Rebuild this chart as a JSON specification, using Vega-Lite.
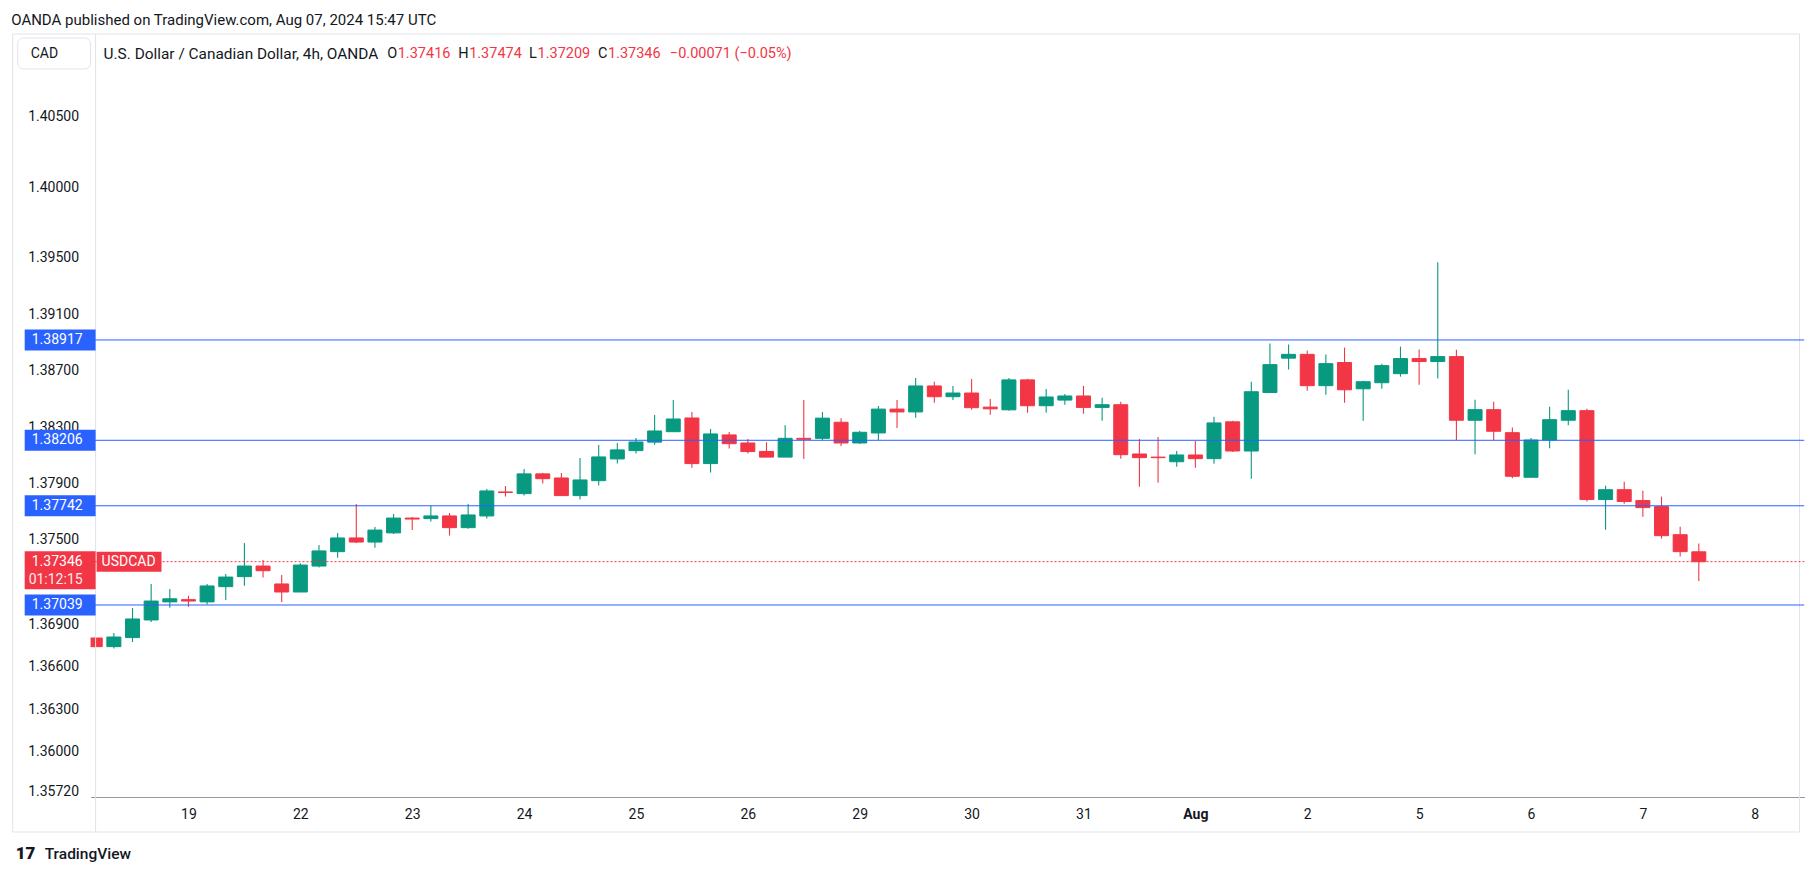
{
  "$schema": "https://vega.github.io/schema/vega-lite/v6.json",
  "width": 1713.9,
  "height": 763,
  "autosize": {"type": "none"},
  "padding": {"left": 90.6, "top": 34, "right": 9.5, "bottom": 79},
  "background": "#ffffff",
  "config": {"view": {"stroke": null}, "font": "Roboto", "text": {"font": "Roboto"}},
  "datasets": {
    "candles": [
      {"i": 0, "o": 1.36805, "h": 1.36810, "l": 1.36738, "c": 1.36744},
      {"i": 1, "o": 1.36744, "h": 1.36841, "l": 1.36730, "c": 1.36812},
      {"i": 2, "o": 1.36808, "h": 1.37018, "l": 1.36777, "c": 1.36940},
      {"i": 3, "o": 1.36933, "h": 1.37188, "l": 1.36919, "c": 1.37067},
      {"i": 4, "o": 1.37061, "h": 1.37152, "l": 1.37020, "c": 1.37083},
      {"i": 5, "o": 1.37077, "h": 1.37105, "l": 1.37027, "c": 1.37067},
      {"i": 6, "o": 1.37061, "h": 1.37188, "l": 1.37042, "c": 1.37174},
      {"i": 7, "o": 1.37169, "h": 1.37259, "l": 1.37075, "c": 1.37237},
      {"i": 8, "o": 1.37240, "h": 1.37478, "l": 1.37176, "c": 1.37315},
      {"i": 9, "o": 1.37315, "h": 1.37358, "l": 1.37233, "c": 1.37282},
      {"i": 10, "o": 1.37188, "h": 1.37252, "l": 1.37061, "c": 1.37131},
      {"i": 11, "o": 1.37131, "h": 1.37334, "l": 1.37131, "c": 1.37322},
      {"i": 12, "o": 1.37315, "h": 1.37464, "l": 1.37304, "c": 1.37422},
      {"i": 13, "o": 1.37417, "h": 1.37549, "l": 1.37374, "c": 1.37514},
      {"i": 14, "o": 1.37514, "h": 1.37755, "l": 1.37478, "c": 1.37485},
      {"i": 15, "o": 1.37485, "h": 1.37592, "l": 1.37445, "c": 1.37570},
      {"i": 16, "o": 1.37550, "h": 1.37684, "l": 1.37542, "c": 1.37655},
      {"i": 17, "o": 1.37655, "h": 1.37663, "l": 1.37570, "c": 1.37648},
      {"i": 18, "o": 1.37651, "h": 1.37743, "l": 1.37630, "c": 1.37670},
      {"i": 19, "o": 1.37670, "h": 1.37691, "l": 1.37531, "c": 1.37587},
      {"i": 20, "o": 1.37587, "h": 1.37755, "l": 1.37580, "c": 1.37677},
      {"i": 21, "o": 1.37670, "h": 1.37861, "l": 1.37651, "c": 1.37847},
      {"i": 22, "o": 1.37840, "h": 1.37882, "l": 1.37807, "c": 1.37836},
      {"i": 23, "o": 1.37828, "h": 1.38003, "l": 1.37814, "c": 1.37968},
      {"i": 24, "o": 1.37968, "h": 1.37975, "l": 1.37899, "c": 1.37934},
      {"i": 25, "o": 1.37939, "h": 1.37975, "l": 1.37814, "c": 1.37814},
      {"i": 26, "o": 1.37814, "h": 1.38081, "l": 1.37786, "c": 1.37925},
      {"i": 27, "o": 1.37920, "h": 1.38173, "l": 1.37885, "c": 1.38088},
      {"i": 28, "o": 1.38074, "h": 1.38187, "l": 1.38041, "c": 1.38138},
      {"i": 29, "o": 1.38133, "h": 1.38223, "l": 1.38112, "c": 1.38194},
      {"i": 30, "o": 1.38193, "h": 1.38386, "l": 1.38175, "c": 1.38272},
      {"i": 31, "o": 1.38267, "h": 1.38492, "l": 1.38267, "c": 1.38357},
      {"i": 32, "o": 1.38364, "h": 1.38407, "l": 1.38012, "c": 1.38041},
      {"i": 33, "o": 1.38041, "h": 1.38286, "l": 1.37977, "c": 1.38251},
      {"i": 34, "o": 1.38244, "h": 1.38265, "l": 1.38147, "c": 1.38182},
      {"i": 35, "o": 1.38187, "h": 1.38215, "l": 1.38112, "c": 1.38126},
      {"i": 36, "o": 1.38127, "h": 1.38192, "l": 1.38087, "c": 1.38087},
      {"i": 37, "o": 1.38087, "h": 1.38313, "l": 1.38087, "c": 1.38220},
      {"i": 38, "o": 1.38220, "h": 1.38491, "l": 1.38073, "c": 1.38213},
      {"i": 39, "o": 1.38220, "h": 1.38406, "l": 1.38206, "c": 1.38363},
      {"i": 40, "o": 1.38334, "h": 1.38363, "l": 1.38166, "c": 1.38187},
      {"i": 41, "o": 1.38187, "h": 1.38273, "l": 1.38180, "c": 1.38263},
      {"i": 42, "o": 1.38258, "h": 1.38449, "l": 1.38206, "c": 1.38427},
      {"i": 43, "o": 1.38427, "h": 1.38491, "l": 1.38294, "c": 1.38407},
      {"i": 44, "o": 1.38407, "h": 1.38648, "l": 1.38365, "c": 1.38591},
      {"i": 45, "o": 1.38591, "h": 1.38620, "l": 1.38472, "c": 1.38515},
      {"i": 46, "o": 1.38515, "h": 1.38591, "l": 1.38491, "c": 1.38541},
      {"i": 47, "o": 1.38541, "h": 1.38641, "l": 1.38422, "c": 1.38437},
      {"i": 48, "o": 1.38441, "h": 1.38498, "l": 1.38387, "c": 1.38429},
      {"i": 49, "o": 1.38422, "h": 1.38648, "l": 1.38415, "c": 1.38634},
      {"i": 50, "o": 1.38634, "h": 1.38641, "l": 1.38401, "c": 1.38451},
      {"i": 51, "o": 1.38451, "h": 1.38570, "l": 1.38401, "c": 1.38513},
      {"i": 52, "o": 1.38491, "h": 1.38534, "l": 1.38458, "c": 1.38520},
      {"i": 53, "o": 1.38520, "h": 1.38591, "l": 1.38394, "c": 1.38439},
      {"i": 54, "o": 1.38439, "h": 1.38507, "l": 1.38344, "c": 1.38458},
      {"i": 55, "o": 1.38458, "h": 1.38479, "l": 1.38076, "c": 1.38104},
      {"i": 56, "o": 1.38109, "h": 1.38216, "l": 1.37876, "c": 1.38083},
      {"i": 57, "o": 1.38087, "h": 1.38230, "l": 1.37905, "c": 1.38083},
      {"i": 58, "o": 1.38054, "h": 1.38130, "l": 1.38019, "c": 1.38102},
      {"i": 59, "o": 1.38102, "h": 1.38201, "l": 1.38012, "c": 1.38076},
      {"i": 60, "o": 1.38076, "h": 1.38372, "l": 1.38040, "c": 1.38329},
      {"i": 61, "o": 1.38337, "h": 1.38344, "l": 1.38123, "c": 1.38130},
      {"i": 62, "o": 1.38130, "h": 1.38621, "l": 1.37933, "c": 1.38550},
      {"i": 63, "o": 1.38545, "h": 1.38892, "l": 1.38545, "c": 1.38742},
      {"i": 64, "o": 1.38788, "h": 1.38885, "l": 1.38707, "c": 1.38815},
      {"i": 65, "o": 1.38815, "h": 1.38842, "l": 1.38557, "c": 1.38593},
      {"i": 66, "o": 1.38593, "h": 1.38814, "l": 1.38529, "c": 1.38749},
      {"i": 67, "o": 1.38757, "h": 1.38863, "l": 1.38472, "c": 1.38564},
      {"i": 68, "o": 1.38571, "h": 1.38628, "l": 1.38344, "c": 1.38621},
      {"i": 69, "o": 1.38614, "h": 1.38749, "l": 1.38571, "c": 1.38735},
      {"i": 70, "o": 1.38678, "h": 1.38870, "l": 1.38657, "c": 1.38785},
      {"i": 71, "o": 1.38785, "h": 1.38849, "l": 1.38600, "c": 1.38764},
      {"i": 72, "o": 1.38764, "h": 1.39468, "l": 1.38643, "c": 1.38799},
      {"i": 73, "o": 1.38799, "h": 1.38848, "l": 1.38208, "c": 1.38348},
      {"i": 74, "o": 1.38348, "h": 1.38494, "l": 1.38107, "c": 1.38423},
      {"i": 75, "o": 1.38423, "h": 1.38480, "l": 1.38208, "c": 1.38270},
      {"i": 76, "o": 1.38260, "h": 1.38296, "l": 1.37937, "c": 1.37951},
      {"i": 77, "o": 1.37944, "h": 1.38222, "l": 1.37944, "c": 1.38208},
      {"i": 78, "o": 1.38208, "h": 1.38444, "l": 1.38149, "c": 1.38352},
      {"i": 79, "o": 1.38348, "h": 1.38565, "l": 1.38312, "c": 1.38416},
      {"i": 80, "o": 1.38416, "h": 1.38430, "l": 1.37772, "c": 1.37786},
      {"i": 81, "o": 1.37786, "h": 1.37884, "l": 1.37573, "c": 1.37856},
      {"i": 82, "o": 1.37856, "h": 1.37913, "l": 1.37757, "c": 1.37772},
      {"i": 83, "o": 1.37779, "h": 1.37849, "l": 1.37665, "c": 1.37729},
      {"i": 84, "o": 1.37736, "h": 1.37807, "l": 1.37509, "c": 1.37530},
      {"i": 85, "o": 1.37537, "h": 1.37594, "l": 1.37382, "c": 1.37417},
      {"i": 86, "o": 1.37416, "h": 1.37474, "l": 1.37209, "c": 1.37346}
    ],
    "levels": [
      {"level": 1.38917},
      {"level": 1.38206},
      {"level": 1.37742},
      {"level": 1.37039}
    ]
  },
  "layer": [
    {
      "data": {"name": "candles"},
      "mark": {"type": "rule", "strokeWidth": 1.1, "clip": true},
      "encoding": {
        "x": {"field": "i", "type": "quantitative",
          "scale": {"domain": [0.0198, 91.4], "nice": false, "zero": false},
          "axis": {"orient": "bottom", "title": null, "values": [5, 11, 17, 23, 29, 35, 41, 47, 53, 59, 65, 71, 77, 83, 89],
            "labelExpr": "['19','22','23','24','25','26','29','30','31','Aug','2','5','6','7','8'][round((datum.value-5)/6)]",
            "domain": true, "domainColor": "#9598a1", "domainWidth": 1, "ticks": false, "grid": false,
            "labelPadding": 10, "labelFontSize": 14, "labelFont": "Roboto", "labelColor": "#131722",
            "labelOverlap": false, "labelFlush": false, "labelBound": false,
            "labelFontWeight": {"condition": {"test": "datum.value == 59", "value": "bold"}, "value": "normal"}}},
        "y": {"field": "l", "type": "quantitative",
          "scale": {"domain": [1.356785, 1.410849], "nice": false, "zero": false},
          "axis": {"orient": "left", "title": null,
            "values": [1.405, 1.4, 1.395, 1.391, 1.387, 1.383, 1.379, 1.375, 1.369, 1.366, 1.363, 1.36, 1.3572],
            "format": ".5f", "domain": false, "ticks": false, "grid": false, "labelPadding": 12,
            "labelFontSize": 14, "labelFont": "Roboto", "labelColor": "#131722",
            "labelOverlap": false, "labelFlush": false, "labelBound": false}},
        "y2": {"field": "h"},
        "color": {"condition": {"test": "datum.c >= datum.o", "value": "#089981"}, "value": "#f23645"}
      }
    },
    {
      "data": {"name": "candles"},
      "mark": {"type": "bar", "size": 14, "strokeWidth": 1, "clip": true},
      "encoding": {
        "x": {"field": "i", "type": "quantitative"},
        "y": {"field": "o", "type": "quantitative"},
        "y2": {"field": "c"},
        "fill": {"condition": {"test": "datum.c >= datum.o", "value": "#089981"}, "value": "#f23645"},
        "stroke": {"condition": {"test": "datum.c >= datum.o", "value": "#089981"}, "value": "#f23645"}
      }
    },
    {
      "data": {"values": [{}]},
      "mark": {"type": "rect", "fill": "transparent", "stroke": "#e0e3eb", "strokeWidth": 1, "clip": false},
      "encoding": {
        "x": {"datum": -4.426, "type": "quantitative"},
        "x2": {"datum": 91.4},
        "y": {"datum": 1.410849, "type": "quantitative"},
        "y2": {"datum": 1.354305}
      }
    },
    {
      "data": {"values": [{}]},
      "mark": {"type": "rule", "color": "#e0e3eb", "strokeWidth": 1, "clip": false},
      "encoding": {
        "x": {"datum": 0.0198, "type": "quantitative"},
        "y": {"datum": 1.410849, "type": "quantitative"},
        "y2": {"datum": 1.354305}
      }
    },
    {
      "data": {"name": "levels"},
      "mark": {"type": "rule", "color": "#2962ff", "strokeWidth": 1, "clip": true},
      "encoding": {"y": {"field": "level", "type": "quantitative"}}
    },
    {
      "data": {"values": [{}]},
      "mark": {"type": "rule", "color": "#f23645", "strokeWidth": 1, "strokeDash": [2, 2], "clip": true},
      "encoding": {"y": {"datum": 1.37346, "type": "quantitative"}}
    },
    {
      "data": {"values": [{}]},
      "mark": {"type": "rule", "color": "#f23645", "strokeWidth": 20, "strokeCap": "butt", "clip": false},
      "encoding": {
        "x": {"datum": 0.0734, "type": "quantitative"},
        "x2": {"datum": 3.555},
        "y": {"datum": 1.37346, "type": "quantitative"}
      }
    },
    {
      "data": {"values": [{}]},
      "mark": {"type": "text", "align": "left", "baseline": "middle", "color": "#ffffff", "fontSize": 14, "font": "Roboto", "clip": false},
      "encoding": {
        "x": {"datum": 0.341, "type": "quantitative"},
        "y": {"datum": 1.37346, "type": "quantitative"},
        "text": {"value": "USDCAD"}
      }
    },
    {
      "data": {"name": "levels"},
      "mark": {"type": "rule", "color": "#2962ff", "strokeWidth": 21, "strokeCap": "butt", "clip": false},
      "encoding": {
        "x": {"datum": -3.783, "type": "quantitative"},
        "x2": {"datum": 0.0198},
        "y": {"field": "level", "type": "quantitative"}
      }
    },
    {
      "data": {"name": "levels"},
      "mark": {"type": "text", "align": "right", "baseline": "middle", "color": "#ffffff", "fontSize": 14, "font": "Roboto", "clip": false},
      "encoding": {
        "x": {"datum": -0.676, "type": "quantitative"},
        "y": {"field": "level", "type": "quantitative"},
        "text": {"field": "level", "type": "quantitative", "format": ".5f"}
      }
    },
    {
      "data": {"values": [{}]},
      "mark": {"type": "rule", "color": "#f23645", "strokeWidth": 38, "strokeCap": "butt", "yOffset": 8.5, "clip": false},
      "encoding": {
        "x": {"datum": -3.783, "type": "quantitative"},
        "x2": {"datum": 0.0198},
        "y": {"datum": 1.37346, "type": "quantitative"}
      }
    },
    {
      "data": {"values": [{}]},
      "mark": {"type": "text", "align": "right", "baseline": "middle", "color": "#ffffff", "fontSize": 14, "font": "Roboto", "clip": false},
      "encoding": {
        "x": {"datum": -0.676, "type": "quantitative"},
        "y": {"datum": 1.37346, "type": "quantitative"},
        "text": {"value": "1.37346"}
      }
    },
    {
      "data": {"values": [{}]},
      "mark": {"type": "text", "align": "right", "baseline": "middle", "color": "#ffffff", "opacity": 0.9, "fontSize": 14, "font": "Roboto", "dy": 18, "clip": false},
      "encoding": {
        "x": {"datum": -0.676, "type": "quantitative"},
        "y": {"datum": 1.37346, "type": "quantitative"},
        "text": {"value": "01:12:15"}
      }
    },
    {
      "data": {"values": [{}]},
      "mark": {"type": "rect", "fill": "#ffffff", "stroke": "#e0e3eb", "strokeWidth": 1, "cornerRadius": 6, "clip": false},
      "encoding": {
        "x": {"datum": -4.158, "type": "quantitative"},
        "x2": {"datum": -0.248},
        "y": {"datum": 1.410566, "type": "quantitative"},
        "y2": {"datum": 1.408369}
      }
    },
    {
      "data": {"values": [{}]},
      "mark": {"type": "text", "align": "left", "baseline": "middle", "color": "#131722", "fontSize": 14, "font": "Roboto", "clip": false},
      "encoding": {
        "x": {"datum": -3.462, "type": "quantitative"},
        "y": {"datum": 1.409467, "type": "quantitative"},
        "text": {"value": "CAD"}
      }
    },
    {
      "data": {"values": [{}]},
      "mark": {"type": "text", "align": "left", "baseline": "middle", "color": "#131722", "fontSize": 15, "font": "Roboto", "clip": false},
      "encoding": {
        "x": {"datum": -4.506, "type": "quantitative"},
        "y": {"datum": 1.411862, "type": "quantitative"},
        "text": {"value": "OANDA published on TradingView.com, Aug 07, 2024 15:47 UTC"}
      }
    },
    {
      "data": {"values": [{}]},
      "mark": {"type": "text", "align": "left", "baseline": "middle", "color": "#131722", "fontSize": 15.4, "font": "Roboto", "clip": false},
      "encoding": {
        "x": {"datum": 0.448, "type": "quantitative"},
        "y": {"datum": 1.409467, "type": "quantitative"},
        "text": {"value": "U.S. Dollar / Canadian Dollar, 4h, OANDA"}
      }
    },
    {
      "data": {"values": [{}]},
      "mark": {"type": "text", "align": "left", "baseline": "middle", "color": "#131722", "fontSize": 14.5, "font": "Roboto", "clip": false},
      "encoding": {"x": {"datum": 15.66, "type": "quantitative"}, "y": {"datum": 1.409467, "type": "quantitative"}, "text": {"value": "O"}}
    },
    {
      "data": {"values": [{}]},
      "mark": {"type": "text", "align": "left", "baseline": "middle", "color": "#f23645", "fontSize": 14.5, "font": "Roboto", "clip": false},
      "encoding": {"x": {"datum": 16.222, "type": "quantitative"}, "y": {"datum": 1.409467, "type": "quantitative"}, "text": {"value": "1.37416"}}
    },
    {
      "data": {"values": [{}]},
      "mark": {"type": "text", "align": "left", "baseline": "middle", "color": "#131722", "fontSize": 14.5, "font": "Roboto", "clip": false},
      "encoding": {"x": {"datum": 19.463, "type": "quantitative"}, "y": {"datum": 1.409467, "type": "quantitative"}, "text": {"value": "H"}}
    },
    {
      "data": {"values": [{}]},
      "mark": {"type": "text", "align": "left", "baseline": "middle", "color": "#f23645", "fontSize": 14.5, "font": "Roboto", "clip": false},
      "encoding": {"x": {"datum": 20.052, "type": "quantitative"}, "y": {"datum": 1.409467, "type": "quantitative"}, "text": {"value": "1.37474"}}
    },
    {
      "data": {"values": [{}]},
      "mark": {"type": "text", "align": "left", "baseline": "middle", "color": "#131722", "fontSize": 14.5, "font": "Roboto", "clip": false},
      "encoding": {"x": {"datum": 23.266, "type": "quantitative"}, "y": {"datum": 1.409467, "type": "quantitative"}, "text": {"value": "L"}}
    },
    {
      "data": {"values": [{}]},
      "mark": {"type": "text", "align": "left", "baseline": "middle", "color": "#f23645", "fontSize": 14.5, "font": "Roboto", "clip": false},
      "encoding": {"x": {"datum": 23.721, "type": "quantitative"}, "y": {"datum": 1.409467, "type": "quantitative"}, "text": {"value": "1.37209"}}
    },
    {
      "data": {"values": [{}]},
      "mark": {"type": "text", "align": "left", "baseline": "middle", "color": "#131722", "fontSize": 14.5, "font": "Roboto", "clip": false},
      "encoding": {"x": {"datum": 26.962, "type": "quantitative"}, "y": {"datum": 1.409467, "type": "quantitative"}, "text": {"value": "C"}}
    },
    {
      "data": {"values": [{}]},
      "mark": {"type": "text", "align": "left", "baseline": "middle", "color": "#f23645", "fontSize": 14.5, "font": "Roboto", "clip": false},
      "encoding": {"x": {"datum": 27.497, "type": "quantitative"}, "y": {"datum": 1.409467, "type": "quantitative"}, "text": {"value": "1.37346"}}
    },
    {
      "data": {"values": [{}]},
      "mark": {"type": "text", "align": "left", "baseline": "middle", "color": "#f23645", "fontSize": 14.5, "font": "Roboto", "clip": false},
      "encoding": {"x": {"datum": 30.818, "type": "quantitative"}, "y": {"datum": 1.409467, "type": "quantitative"}, "text": {"value": "−0.00071 (−0.05%)"}}
    },
    {
      "data": {"values": [{}]},
      "mark": {"type": "text", "align": "left", "baseline": "middle", "color": "#131722", "fontSize": 17, "fontWeight": 900, "font": "Roboto", "clip": false},
      "encoding": {"x": {"datum": -4.265, "type": "quantitative"}, "y": {"datum": 1.352747, "type": "quantitative"}, "text": {"value": "17"}}
    },
    {
      "data": {"values": [{}]},
      "mark": {"type": "text", "align": "left", "baseline": "middle", "color": "#131722", "fontSize": 15.5, "fontWeight": 500, "font": "Roboto", "clip": false},
      "encoding": {"x": {"datum": -2.712, "type": "quantitative"}, "y": {"datum": 1.352747, "type": "quantitative"}, "text": {"value": "TradingView"}}
    }
  ]
}
